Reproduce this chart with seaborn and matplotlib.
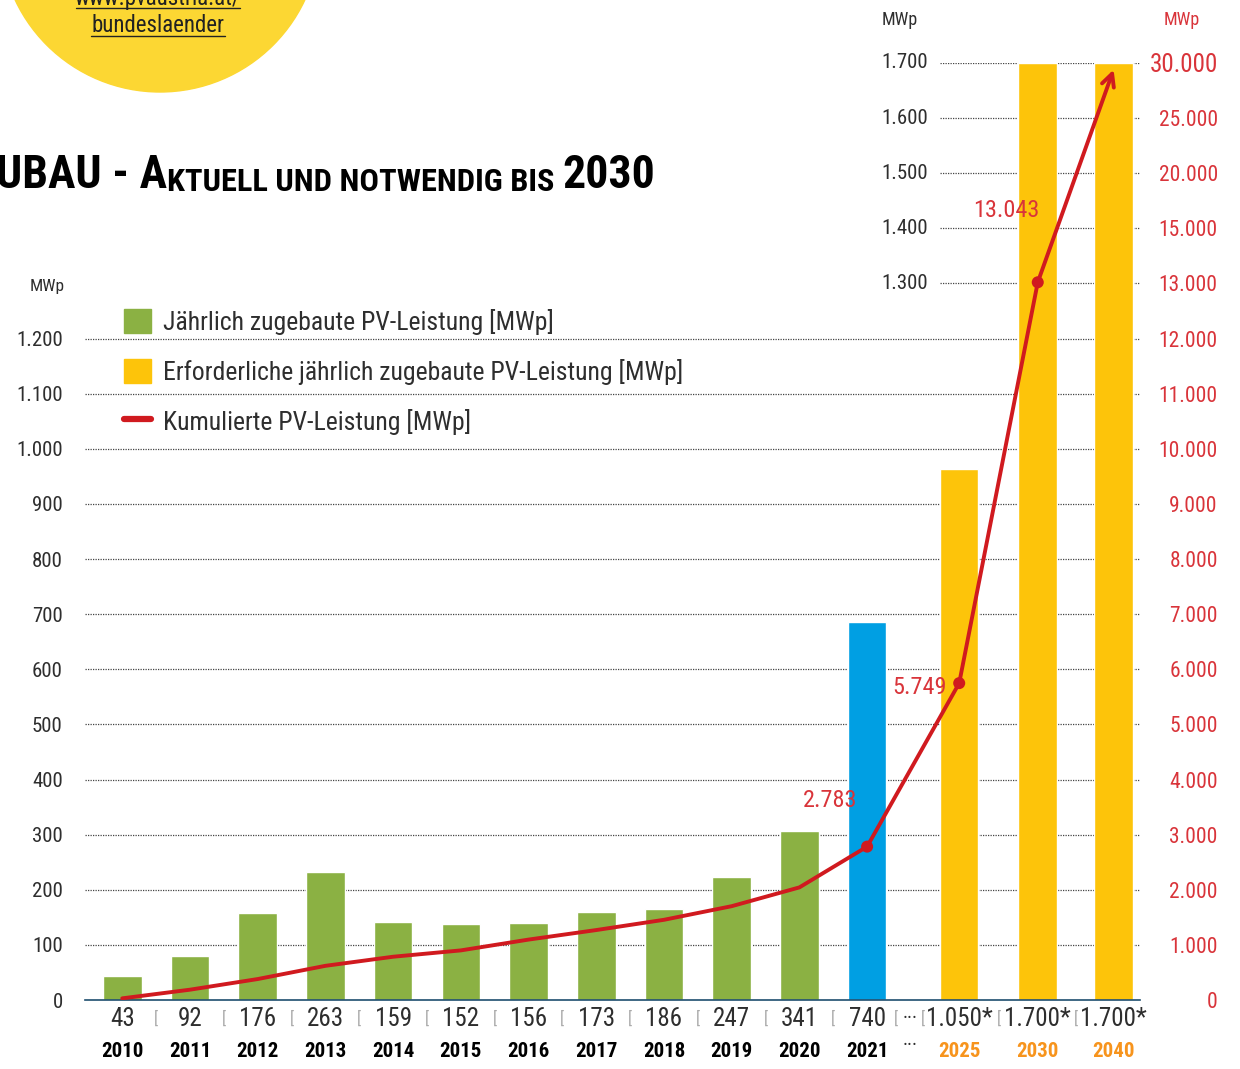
"""PV-Zubau Österreich - aktuell und notwendig bis 2030"""
import numpy as np
import pandas as pd
import matplotlib
matplotlib.use("Agg")
import matplotlib.pyplot as plt
import seaborn as sns
from matplotlib.patches import Patch, Ellipse
from matplotlib.lines import Line2D
from matplotlib import transforms

# ---- data -------------------------------------------------------------
years = ["2010", "2011", "2012", "2013", "2014", "2015", "2016", "2017",
         "2018", "2019", "2020", "2021", "2025", "2030", "2040"]
# horizontal slot of each year on the chart (targets are spaced wider)
year_pos = [0, 1, 2, 3, 4, 5, 6, 7, 8, 9, 10, 11, 12.36, 13.52, 14.64]
bar_heights = [44, 80, 157, 232, 142, 137, 139, 159, 166, 223, 307, 686,
               964, 1700, 1700]
bar_kind = ["ist"] * 11 + ["2021"] + ["ziel"] * 3
value_labels = ["43", "92", "176", "263", "159", "152", "156", "173", "186",
                "247", "341", "740", "1.050*", "1.700*", "1.700*"]
cum_values = [30, 187, 380, 620, 785, 900, 1096, 1269, 1455, 1702, 2043,
              2783, 5749, 13043]
cum_end_2040 = 29400
cum_marked = ["2021", "2025", "2030"]
cum_labels = ["2.783", "5.749", "13.043"]

left_ticks_low = list(range(0, 1300, 100))
left_ticks_high = [1300, 1400, 1500, 1600, 1700]
right_ticks = list(range(0, 14000, 1000)) + [15000, 20000, 25000, 30000]
# broken right axis: value -> position on the left scale
right_knots_val = [0, 13000, 15000, 20000, 25000, 30000]
right_knots_pos = [0, 1300, 1400, 1500, 1600, 1700]

legend_labels = ["Jährlich zugebaute PV-Leistung [MWp]",
                 "Erforderliche jährlich zugebaute PV-Leistung [MWp]",
                 "Kumulierte PV-Leistung [MWp]"]

GREEN = "#8BB143"
BLUE = "#009FE3"
YELLOW = "#FDC40A"
RED = "#D01A1F"
RED_TXT = "#D9343A"
ORANGE = "#F7941D"
GREY = "#2E2E2E"


def fmt(v):
    return f"{v:,}".replace(",", ".")


def fwd(v):
    return np.interp(v, right_knots_val, right_knots_pos)


def inv(p):
    return np.interp(p, right_knots_pos, right_knots_val)


sns.set_style("white")
plt.rcParams["font.family"] = ["Roboto Condensed", "DejaVu Sans"]
plt.rcParams["font.weight"] = "normal"

fig = plt.figure(figsize=(12.4, 10.69), dpi=100)
ax = fig.add_axes([85 / 1240, 69 / 1069, 1055 / 1240, 937 / 1069])

# bars
df = pd.DataFrame({"x": year_pos, "h": bar_heights, "kind": bar_kind})
sns.barplot(data=df, x="x", y="h", hue="kind", native_scale=True, dodge=False,
            palette={"ist": GREEN, "2021": BLUE, "ziel": YELLOW},
            width=0.57, saturation=1, legend=False, ax=ax, zorder=2)
ax.set_xlim(-0.55, 15.03)
ax.set_ylim(0, 1700)
ax.set_xlabel("")
ax.set_ylabel("")
ax.set_xticks([])

# grid lines
for y in left_ticks_low[1:]:
    ax.axhline(y, color="#444444", lw=0.9, ls=(0, (1, 1)), zorder=0)
for y in left_ticks_high:
    ax.axhline(y, xmin=0.81, xmax=1, color="#444444", lw=0.9, ls=(0, (1, 1)), zorder=0)

for s in ["top", "left", "right"]:
    ax.spines[s].set_visible(False)
ax.spines["bottom"].set_color("#1E4E6E")
ax.spines["bottom"].set_linewidth(1.2)

ax.set_yticks(left_ticks_low, [fmt(v) for v in left_ticks_low])
ax.tick_params(axis="y", length=0, pad=16, labelsize=15, labelcolor=GREY)
trans_high = transforms.blended_transform_factory(ax.transAxes, ax.transData)
for v in left_ticks_high:
    ax.text(0.799, v, fmt(v), transform=trans_high, ha="right", va="center",
            fontsize=15, color=GREY)
fig.text(47 / 1240, 1 - 287 / 1069, "MWp", ha="center", va="center", fontsize=12.5, color=GREY)
fig.text(900 / 1240, 1 - 20 / 1069, "MWp", ha="center", va="center", fontsize=13, color=GREY)
fig.text(1182 / 1240, 1 - 20 / 1069, "MWp", ha="center", va="center", fontsize=13, color=RED_TXT)

# cumulative line on the broken right axis
ax2 = ax.twinx()
ax2.set_yscale("function", functions=(fwd, inv))
ax2.set_ylim(0, 30000)
cum_df = pd.DataFrame({"x": year_pos[:len(cum_values)], "v": cum_values,
                       "year": years[:len(cum_values)]})
sns.lineplot(data=cum_df, x="x", y="v", color=RED, lw=2.8, ax=ax2, zorder=3)
mk = cum_df[cum_df["year"].isin(cum_marked)]
sns.scatterplot(data=mk, x="x", y="v", color=RED, s=75, edgecolor="none", ax=ax2, zorder=4)
ax2.annotate("", xy=(year_pos[-1], cum_end_2040), xytext=(year_pos[-2], cum_values[-1]),
             arrowprops=dict(arrowstyle="->,head_length=0.9,head_width=0.45",
                             color=RED, lw=2.8, shrinkA=0, shrinkB=0))
offsets = [(-27, 33), (-9, -3), (-23, 52)]
for (_, r), lab, off, ha in zip(mk.iterrows(), cum_labels, offsets, ["center", "right", "center"]):
    ax2.annotate(lab, xy=(r["x"], r["v"]), xytext=off, textcoords="offset points",
                 ha=ha, va="center", fontsize=17.5, color=RED_TXT)
ax2.set_xlabel("")
ax2.set_ylabel("")
for s in ax2.spines.values():
    s.set_visible(False)
ax2.set_yticks(right_ticks, [fmt(v) for v in right_ticks])
ax2.yaxis.set_minor_locator(matplotlib.ticker.NullLocator())
ax2.tick_params(axis="y", length=0, pad=56, labelsize=15.5, labelcolor=RED_TXT)
for lbl in ax2.get_yticklabels():
    lbl.set_ha("right")
ax2.get_yticklabels()[-1].set_fontsize(18)

# value and year rows below the axis
for i, (x, lab, yr) in enumerate(zip(year_pos, value_labels, years)):
    ax.annotate(lab, xy=(x, 0), xycoords=("data", "axes fraction"), xytext=(0, -13.5),
                textcoords="offset points", ha="center", va="center", fontsize=18, color=GREY)
    ax.annotate(yr, xy=(x, 0), xycoords=("data", "axes fraction"), xytext=(0, -37),
                textcoords="offset points", ha="center", va="center", fontsize=15,
                fontweight="bold", color=ORANGE if bar_kind[i] == "ziel" else "black")
gap = (year_pos[11] + year_pos[12]) / 2 - 0.05
ax.annotate("···", xy=(gap, 0), xycoords=("data", "axes fraction"), xytext=(0, -13.5),
            textcoords="offset points", ha="center", va="center", fontsize=15, color=GREY)
ax.annotate("···", xy=(gap, 0), xycoords=("data", "axes fraction"), xytext=(0, -33),
            textcoords="offset points", ha="center", va="center", fontsize=15, color=GREY)
seps = [(a + b) / 2 for a, b in zip(year_pos[:-1], year_pos[1:])]
seps = seps[:11] + [gap - 0.2, gap + 0.2] + seps[12:]
for x in seps:
    ax.annotate("[", xy=(x, 0), xycoords=("data", "axes fraction"), xytext=(0, -13.5),
                textcoords="offset points", ha="center", va="center", fontsize=12,
                color="#AAAAAA")

# legend
handles = [Patch(color=GREEN), Patch(color=YELLOW), Line2D([], [], color=RED, lw=4.5)]
ax.legend(handles, legend_labels, loc="upper left", bbox_to_anchor=(124 / 1240, 1 - 309 / 1069),
          bbox_transform=fig.transFigure, frameon=False, fontsize=18.5, labelcolor=GREY,
          handlelength=1.05, handleheight=1.05, handletextpad=0.45, labelspacing=0.93,
          borderpad=0, borderaxespad=0)

# yellow link bubble + title
fig.patches.append(Ellipse((160 / 1240, 1 + 68 / 1069), 2 * 160 / 1240, 2 * 160 / 1069,
                           transform=fig.transFigure, color="#FCD733", zorder=0))
fig.text(158 / 1240, 1 + 1 / 1069, "www.pvaustria.at/", ha="center", va="center",
         fontsize=16.5, color="#222222")
fig.text(158 / 1240, 1 - 25 / 1069, "bundeslaender", ha="center", va="center",
         fontsize=16.5, color="#222222")
fig.add_artist(Line2D([91 / 1240, 225 / 1240], [1 - 36 / 1069] * 2, color="#222222",
                      lw=1, transform=fig.transFigure))
fig.add_artist(Line2D([76 / 1240, 240 / 1240], [1 - 8 / 1069] * 2, color="#222222",
                      lw=1, transform=fig.transFigure))

t1 = fig.text(-4 / 1240, 1 - 188 / 1069, "UBAU - A", fontsize=33, fontweight="bold",
              va="baseline", color="black")
t2 = ax.annotate("KTUELL UND NOTWENDIG BIS ", xy=(1, 0), xycoords=t1, fontsize=23.3,
                 fontweight="bold", va="bottom", ha="left", color="black",
                 annotation_clip=False)
ax.annotate("2030", xy=(1, 0), xycoords=t2, fontsize=33, fontweight="bold",
            va="bottom", ha="left", color="black", annotation_clip=False)

fig.savefig("out.png", dpi=100)
